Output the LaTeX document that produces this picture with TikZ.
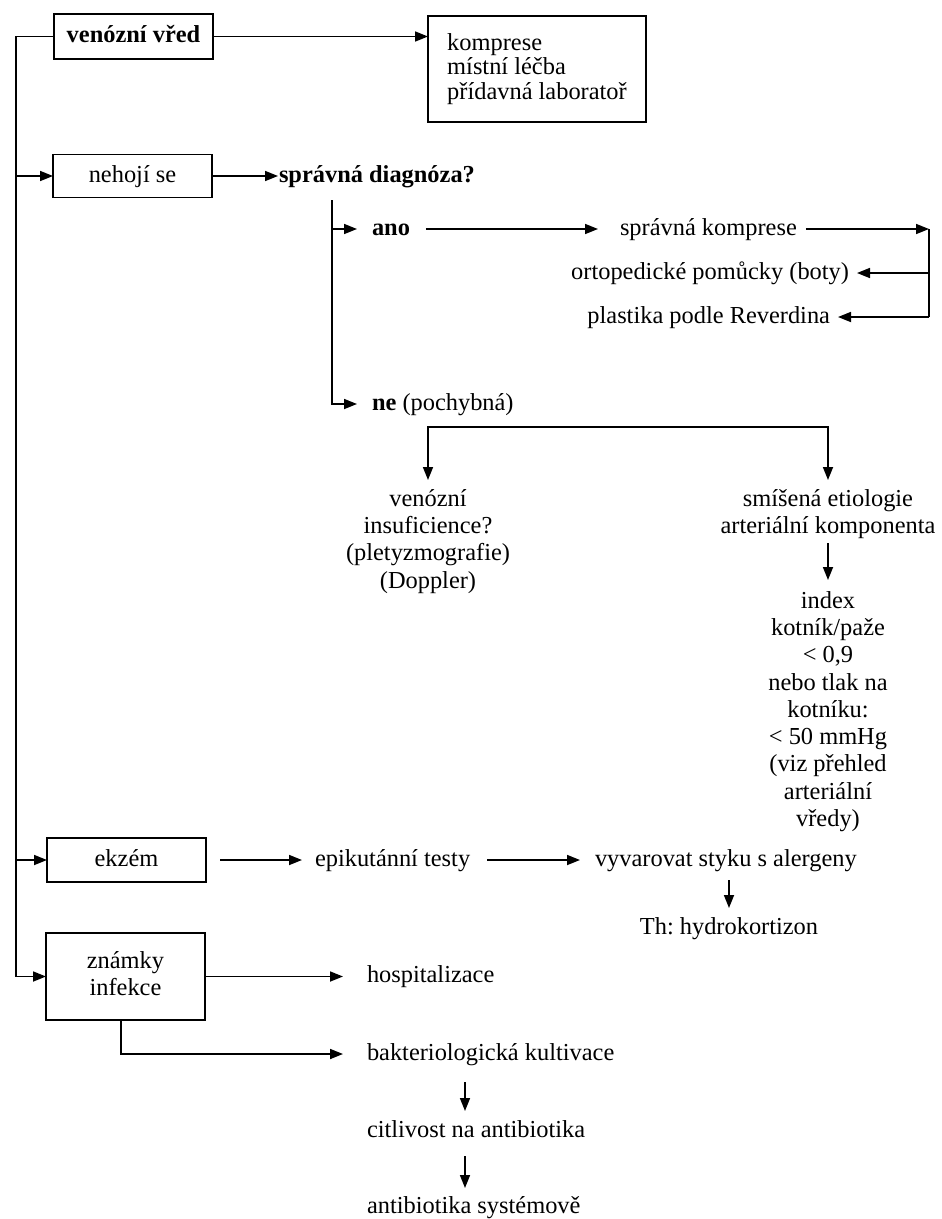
\documentclass[tikz,border=0pt]{standalone}
\usepackage{fontspec}
\setmainfont{Liberation Serif}
\usetikzlibrary{arrows.meta}
\newcommand{\fsz}{\fontsize{24.4}{27.3}\selectfont}
\frenchspacing
\begin{document}
\begin{tikzpicture}[x=1pt,y=-1pt,
  every node/.style={font=\fsz, inner sep=0pt, outer sep=0pt},
  lbl/.style={text height=17pt, text depth=5pt},
  bx/.style={draw, line width=1.9pt, lbl, minimum width=159pt},
  mbox/.style={draw, line width=1.9pt, minimum width=159pt},
  ml/.style={align=center, anchor=north},
  ln/.style={line width=1.7pt},
  arr/.style={ln, -{Triangle[length=13pt,width=10pt]}}]

\fill[white] (0,0) rectangle (942,1219);
\useasboundingbox (0,0) rectangle (942,1219);

% nodes
\node[bx, minimum height=45pt, font=\fsz\bfseries] (vv) at (133.5,36.5) {venózní vřed};
\node[draw, line width=1.9pt, minimum width=218pt, minimum height=106pt, align=left,
      font=\fontsize{24.4}{24.5}\selectfont] (kp) at (537,69) {komprese\\místní léčba\\přídavná laboratoř};
\node[bx, minimum height=43pt] (nh) at (132.5,176) {nehojí se};
\node[lbl, anchor=west, font=\fsz\bfseries] (sd) at (279,176) {správná diagnóza?};
\node[lbl, anchor=west, font=\fsz\bfseries] (ano) at (372,229) {ano};
\node[lbl, anchor=west] (sk) at (620,229) {správná komprese};
\node[lbl, anchor=east] (op) at (849,273) {ortopedické pomůcky (boty)};
\node[lbl, anchor=east] (pl) at (830,317) {plastika podle Reverdina};
\node[lbl, anchor=west] (ne) at (372,404) {\textbf{ne} (pochybná)};
\node[ml] (vi) at (428,487) {\strut venózní\\\strut insuficience?\\\strut (pletyzmografie)\\\strut (Doppler)};
\node[ml] (se) at (828,487) {\strut smíšená etiologie\\\strut arteriální komponenta};
\node[ml] (ix) at (828,589) {\strut index\\\strut kotník/paže\\\strut < 0,9\\\strut nebo tlak na\\\strut kotníku:\\\strut < 50 mmHg\\\strut (viz přehled\\\strut arteriální\\\strut vředy)};

\node[bx, minimum height=44pt] (ek) at (126.5,860) {ekzém};
\node[lbl, anchor=west] (ep) at (315,860) {epikutánní testy};
\node[lbl, anchor=west] (vy) at (595,860) {vyvarovat styku s alergeny};
\node[lbl] (th) at (729,928) {Th: hydrokortizon};
\node[mbox, minimum height=87pt, align=center] (zi) at (125.5,976.5) {\strut známky\\\strut infekce};
\node[lbl, anchor=west] (ho) at (367,976.5) {hospitalizace};
\node[lbl, anchor=west] (ba) at (367,1054) {bakteriologická kultivace};
\node[lbl, anchor=west] (ci) at (367,1131) {citlivost na antibiotika};
\node[lbl, anchor=west] (an) at (367,1207) {antibiotika systémově};

% free ends
\coordinate (L) at (16,0);
\coordinate (V) at (332,200);
\coordinate (C) at (929,0);
\coordinate (Br) at (629,427);
\coordinate (X) at (465,0);

% connectors
\draw[ln] (vv.west) -- (vv.west -| L) -- (L |- zi.west);
\draw[arr] (vv.east) -- (vv.east -| kp.west);
\draw[arr] (L |- nh.west) -- (nh.west);
\draw[arr] (L |- ek.west) -- (ek.west);
\draw[arr] (L |- zi.west) -- (zi.west);
\draw[arr, shorten >=1pt] (nh.east) -- (sd.west);
\draw[arr, shorten >=15pt] (V) |- (ano.west);
\draw[arr, shorten >=15pt] (V) |- (ne.west);
\draw[arr, shorten <=16pt, shorten >=22pt] (ano.east) -- (sk.west);
\draw[arr, shorten <=9pt] (sk.east) -- (sk.east -| C);
\draw[ln] (sk.east -| C) -- (C |- pl.east);
\draw[arr, shorten >=8pt] (C |- op.east) -- (op.east);
\draw[arr, shorten >=8pt] (C |- pl.east) -- (pl.east);
\draw[arr, shorten >=7pt] (Br) -| (vi.north);
\draw[arr, shorten >=7pt] (Br) -| (se.north);
\draw[arr, shorten <=1.5pt, shorten >=9pt] (se.south) -- (ix.north);
\draw[arr, shorten <=14pt, shorten >=13pt] (ek.east) -- (ep.west);
\draw[arr, shorten <=17pt, shorten >=15pt] (ep.east) -- (vy.west);
\draw[arr, shorten <=9pt, shorten >=9pt] (th.north |- vy.south) -- (th.north);
\draw[arr, shorten >=24pt] (zi.east) -- (ho.west);
\draw[arr, shorten >=24pt] ([xshift=-4.5pt]zi.south) |- (ba.west);
\draw[arr, shorten <=17pt, shorten >=9pt] (X |- ba.south) -- (X |- ci.north);
\draw[arr, shorten <=14pt, shorten >=8pt] (X |- ci.south) -- (X |- an.north);
\end{tikzpicture}
\end{document}
